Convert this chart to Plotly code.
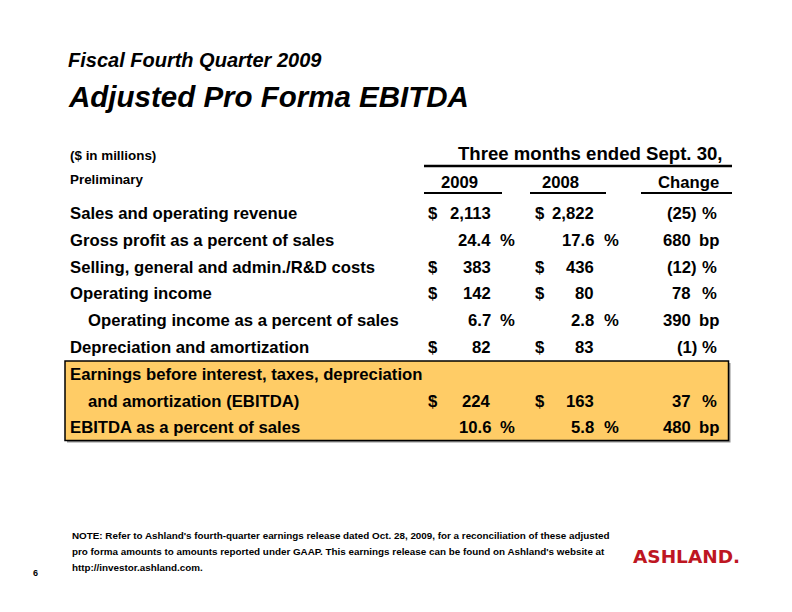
import plotly.graph_objects as go

# ---- data -------------------------------------------------------------
row_labels = [
    "Sales and operating revenue",
    "Gross profit as a percent of sales",
    "Selling, general and admin./R&D costs",
    "Operating income",
    "Operating income as a percent of sales",
    "Depreciation and amortization",
    "Earnings before interest, taxes, depreciation",
    "and amortization (EBITDA)",
    "EBITDA as a percent of sales",
]
row_indent = [0, 0, 0, 0, 1, 0, 0, 1, 0]
row_kind = ["$", "%", "$", "$", "%", "$", None, "$", "%"]
q4_2009 = [2113, 24.4, 383, 142, 6.7, 82, None, 224, 10.6]
q4_2008 = [2822, 17.6, 436, 80, 2.8, 83, None, 163, 5.8]
change = [-25, 680, -12, 78, 390, -1, None, 37, 480]
change_unit = ["%", "bp", "%", "%", "bp", "%", None, "%", "bp"]
col_titles = ["2009", "2008", "Change"]

FONT = "Liberation Sans, Arial, sans-serif"
BLACK = "#000000"


def fmt(v, kind):
    if kind == "%":
        return f"{v:.1f}"
    return f"{v:,.0f}"


fig = go.Figure()
ann = []


def text(x, y, s, size=16.7, anchor="left", **font):
    ann.append(dict(x=x, y=y, text=s, showarrow=False, xanchor=anchor, yanchor="middle",
                    borderpad=0, borderwidth=0,
                    font=dict(family=FONT, size=size, color=BLACK, weight="bold", **font)))


# titles
text(68, 60, "Fiscal Fourth Quarter 2009", size=20, style="italic")
text(68, 96, "Adjusted Pro Forma EBITDA", size=29.5, style="italic")

# header
text(70, 155, "($ in millions)", size=13.4)
text(70, 179, "Preliminary", size=13.4)
text(590, 153, "Three months ended Sept. 30,", size=18.6, anchor="center")
for cx, t in zip([459, 560, 688], col_titles):
    text(cx, 182, t, size=16.7, anchor="center")

shapes = [
    dict(type="line", x0=424, x1=732, y0=166, y1=166, line=dict(color=BLACK, width=2.5)),
    dict(type="line", x0=424, x1=502, y0=193, y1=193, line=dict(color=BLACK, width=2)),
    dict(type="line", x0=530, x1=606, y0=193, y1=193, line=dict(color=BLACK, width=2)),
    dict(type="line", x0=641, x1=732, y0=193, y1=193, line=dict(color=BLACK, width=2)),
    # highlighted EBITDA box with a soft shadow
    dict(type="rect", x0=67, x1=730.5, y0=363, y1=442.5, fillcolor="#8f8f8f",
         line=dict(width=0), layer="below"),
    dict(type="rect", x0=65, x1=728.5, y0=361, y1=440.5, fillcolor="#FFCC66",
         line=dict(color=BLACK, width=1.5), layer="below"),
]

row_y0, row_dy = 213.5, 26.8
for i, label in enumerate(row_labels):
    y = row_y0 + i * row_dy
    text(88 if row_indent[i] else 70, y, label)
    kind = row_kind[i]
    if kind is None:
        continue
    for dollar_x, right_x, pct_x, v in [(428, 491, 500, q4_2009[i]), (535, 594, 604, q4_2008[i])]:
        if kind == "$":
            text(dollar_x, y, "$")
        text(right_x, y, fmt(v, kind), anchor="right")
        if kind == "%":
            text(pct_x, y, "%")
    c = change[i]
    if c < 0:
        text(697, y, f"({abs(c)})", anchor="right")
    else:
        text(691, y, f"{c}", anchor="right")
    text(699 if change_unit[i] == "bp" else 701.5, y, change_unit[i])

# footnote
note = ["NOTE: Refer to Ashland's fourth-quarter earnings release dated Oct. 28, 2009, for a reconciliation of these adjusted",
        "pro forma amounts to amounts reported under GAAP. This earnings release can be found on Ashland's website at",
        "http://investor.ashland.com."]
for k, line in enumerate(note):
    text(72, 535 + k * 16, line, size=9.85)
text(33, 573, "6", size=9)

# logo
ann.append(dict(x=686, y=556, text="ASHLAND.", showarrow=False, xanchor="center", yanchor="middle",
                borderpad=0, font=dict(family="DejaVu Sans", size=18.5, color="#BE1622", weight="bold")))

# page body has an 8px margin: map data units straight onto window pixels
fig.update_layout(
    width=784, height=604,
    margin=dict(l=0, r=0, t=0, b=0),
    paper_bgcolor="white", plot_bgcolor="white",
    xaxis=dict(range=[8, 792], visible=False, fixedrange=True),
    yaxis=dict(range=[612, 8], visible=False, fixedrange=True),
    annotations=ann, shapes=shapes, showlegend=False,
)
fig.write_html("out.html")
